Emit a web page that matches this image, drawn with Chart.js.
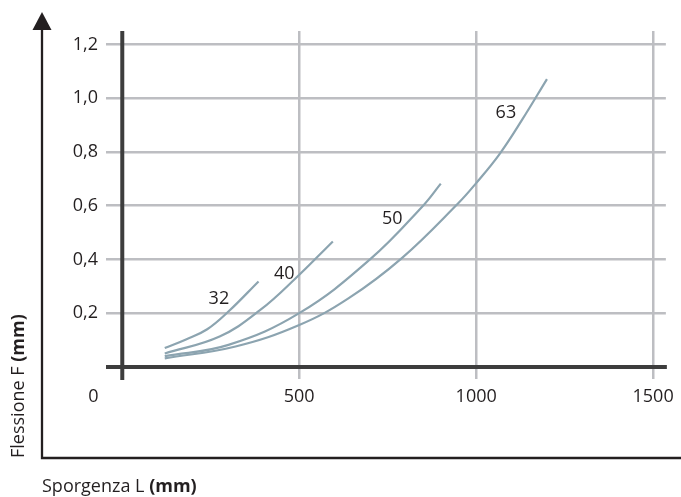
<!DOCTYPE html>
<html>
<head>
<meta charset="utf-8">
<script src="https://cdn.jsdelivr.net/npm/chart.js@4"></script>
<style>
  html, body { margin: 0; padding: 0; background: #fff; }
</style>
</head>
<body>
<canvas id="flessione" width="681" height="497"></canvas>
<script>
// tick values
var xTicks = [0, 500, 1000, 1500]
var yTicks = [0, 0.2, 0.4, 0.6, 0.8, 1.0, 1.2]

// one curve per bore size
var sizes = ['32', '40', '50', '63']
var sporgenza = [
  [120, 180, 240, 300, 385],
  [120, 275, 390, 490, 595],
  [120, 300, 500, 700, 850, 900],
  [120, 320, 500, 640, 790, 950, 1000, 1065, 1130, 1200]
]
var flessione = [
  [0.07, 0.102, 0.14, 0.206, 0.318],
  [0.05, 0.113, 0.212, 0.33, 0.467],
  [0.04, 0.082, 0.2, 0.4, 0.6, 0.682],
  [0.032, 0.076, 0.156, 0.256, 0.405, 0.61, 0.684, 0.79, 0.92, 1.071]
]
// where each size label sits (data units)
var labelL = [273, 458, 763, 1084]
var labelF = [0.252, 0.346, 0.55, 0.945]

var ink = '#231f20'
var axisDark = '#3d3d3d'
var gridGrey = '#bdbec2'
var curve = '#8ca4b0'
var family = '"Open Sans", "Noto Sans", sans-serif'

var datasets = sizes.map(function (s, i) {
  return {
    label: s,
    data: sporgenza[i].map(function (x, j) { return {x: x, y: flessione[i][j]} }),
    showLine: true,
    borderColor: curve,
    borderWidth: 2.2,
    pointRadius: 0,
    tension: 0.4
  }
})

function drawParts(ctx, parts, x, y) {
  parts.forEach(function (p) {
    ctx.font = (p.bold ? 'bold ' : '') + '18px ' + family
    ctx.fillText(p.text, x, y)
    x += ctx.measureText(p.text).width
  })
}

var extras = {
  id: 'extras',
  beforeDatasetsDraw: function (chart) {
    var ctx = chart.ctx, a = chart.chartArea
    var x0 = chart.scales.x.getPixelForValue(0)
    var y0 = chart.scales.y.getPixelForValue(0)
    ctx.save()
    ctx.strokeStyle = axisDark
    ctx.lineWidth = 4
    ctx.beginPath()
    ctx.moveTo(a.left, y0); ctx.lineTo(a.right + 1, y0)
    ctx.moveTo(x0, a.top); ctx.lineTo(x0, a.bottom + 1)
    ctx.stroke()
    ctx.restore()
  },
  afterDraw: function (chart) {
    var ctx = chart.ctx
    var xs = chart.scales.x, ys = chart.scales.y
    ctx.save()
    // outer arrow axes
    ctx.strokeStyle = ink
    ctx.fillStyle = ink
    ctx.lineWidth = 2.3
    ctx.beginPath()
    ctx.moveTo(42, 28); ctx.lineTo(42, 458)
    ctx.lineTo(681, 458)
    ctx.stroke()
    ctx.beginPath()
    ctx.moveTo(42, 12); ctx.lineTo(51.5, 30); ctx.lineTo(32.5, 30)
    ctx.closePath(); ctx.fill()

    // origin label
    ctx.font = '18px ' + family
    ctx.textAlign = 'center'
    ctx.textBaseline = 'middle'
    ctx.fillText('0', xs.getPixelForValue(0) - 29, 397)

    // curve labels
    sizes.forEach(function (s, i) {
      ctx.fillText(s, xs.getPixelForValue(labelL[i]), ys.getPixelForValue(labelF[i]))
    })

    // axis titles
    ctx.textAlign = 'left'
    ctx.textBaseline = 'alphabetic'
    drawParts(ctx, [{text: 'Sporgenza L '}, {text: '(mm)', bold: true}], 42, 492)
    ctx.translate(24, 458)
    ctx.rotate(-Math.PI / 2)
    drawParts(ctx, [{text: 'Flessione F '}, {text: '(mm)', bold: true}], 0, 0)
    ctx.restore()
  }
}

new Chart(document.getElementById('flessione'), {
  type: 'scatter',
  data: {datasets: datasets},
  plugins: [extras],
  options: {
    responsive: false,
    devicePixelRatio: 1,
    animation: false,
    layout: {padding: {top: 31, right: 13, left: 0, bottom: 0}},
    plugins: {legend: {display: false}, tooltip: {enabled: false}},
    scales: {
      x: {
        type: 'linear',
        min: -46,
        max: 1536,
        afterBuildTicks: function (s) { s.ticks = xTicks.map(function (v) { return {value: v} }) },
        afterFit: function (s) { s.height = 118 },
        border: {display: false},
        grid: {
          drawTicks: false,
          color: function (c) { return c.tick && c.tick.value === 0 ? 'rgba(0,0,0,0)' : gridGrey },
          lineWidth: 2.5
        },
        ticks: {
          autoSkip: false,
          maxRotation: 0,
          padding: 7,
          color: ink,
          font: {family: family, size: 18},
          callback: function (v) { return v === 0 ? '' : String(v) }
        }
      },
      y: {
        min: -0.045,
        max: 1.25,
        afterBuildTicks: function (s) { s.ticks = yTicks.map(function (v) { return {value: v} }) },
        afterFit: function (s) { s.width = 106 },
        border: {display: false},
        grid: {
          drawTicks: false,
          color: function (c) { return c.tick && c.tick.value === 0 ? 'rgba(0,0,0,0)' : gridGrey },
          lineWidth: 2.5
        },
        ticks: {
          padding: 8,
          color: ink,
          font: {family: family, size: 18},
          callback: function (v) { return v === 0 ? '' : v.toFixed(1).replace('.', ',') }
        }
      }
    }
  }
})
</script>
</body>
</html>
